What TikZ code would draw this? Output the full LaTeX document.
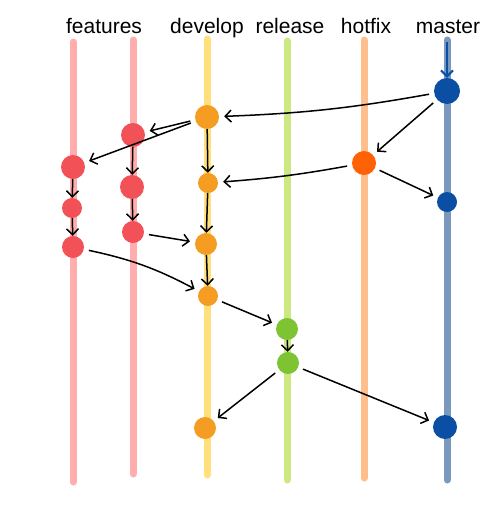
\documentclass[tikz,border=0pt]{standalone}
\usepackage{fontspec}
\setmainfont{Liberation Sans}
\usetikzlibrary{arrows.meta}

\definecolor{featline}{HTML}{FFADAD}
\definecolor{featdot}{HTML}{F25157}
\definecolor{devline}{HTML}{FFE07D}
\definecolor{devdot}{HTML}{F59D22}
\definecolor{relline}{HTML}{CCE880}
\definecolor{reldot}{HTML}{7EC332}
\definecolor{hotline}{HTML}{FFBF8C}
\definecolor{hotdot}{HTML}{FF6205}
\definecolor{mastline}{HTML}{7B99BE}
\definecolor{mastdot}{HTML}{0B4FA5}

\begin{document}
\begin{tikzpicture}[x=1pt, y=-1pt,
  every node/.style = {align=center},
  lane/.style={line width=7pt, line cap=round},
  title/.style={anchor=base, font=\fontsize{21}{25}\selectfont},
  commit/.style={circle, inner sep=0pt, fill=#1},
  step edge/.style={draw, -{Straight Barb[length=6pt,width=12pt]}, line width=1.5pt},
  merge/.style={step edge, shorten >=5pt, shorten <=5pt}]
  \useasboundingbox (0,0) rectangle (500,522);

  % branch names
  \node[title] (tfeat) at (104,33) {features};
  \node[title] (tdev) at (207,33) {develop};
  \node[title] (trel) at (290,33) {release};
  \node[title] (thot) at (366,33) {hotfix};
  \node[title] (tmast) at (448,33) {master};

  % lanes
  \draw[lane, featline] (73,42) -- (73,482);
  \draw[lane, featline] (133,40) -- (133,474);
  \draw[lane, devline] (207,39) -- (207,475);
  \draw[lane, relline] (287,41) -- (287,480);
  \draw[lane, hotline] (364,40) -- (364,478);
  \draw[lane, mastline] (447,40) -- (447,480);

  % commits
  \node[commit=mastdot, minimum size=26pt] (m1) at (447,91) {};
  \node[commit=mastdot, minimum size=20pt] (m2) at (447,202) {};
  \node[commit=mastdot, minimum size=24pt] (m3) at (445,427) {};
  \node[commit=hotdot, minimum size=24pt] (h1) at (364,163) {};
  \node[commit=devdot, minimum size=24pt] (d1) at (207,117) {};
  \node[commit=devdot, minimum size=20pt] (d2) at (208,183) {};
  \node[commit=devdot, minimum size=22pt] (d3) at (206,244) {};
  \node[commit=devdot, minimum size=20pt] (d4) at (208,296) {};
  \node[commit=devdot, minimum size=22pt] (d5) at (205,428) {};
  \node[commit=reldot, minimum size=22pt] (r1) at (287,329) {};
  \node[commit=reldot, minimum size=22pt] (r2) at (288,363) {};
  \node[commit=featdot, minimum size=24pt] (f21) at (133,135) {};
  \node[commit=featdot, minimum size=24pt] (f22) at (132,187) {};
  \node[commit=featdot, minimum size=22pt] (f23) at (133,232) {};
  \node[commit=featdot, minimum size=24pt] (f11) at (73,167) {};
  \node[commit=featdot, minimum size=20pt] (f12) at (72,208) {};
  \node[commit=featdot, minimum size=22pt] (f13) at (73,247) {};

  \coordinate (mtop) at (447,42);
  \path[step edge, mastdot, line width=2pt] (mtop) -- (m1);

  % steps along a branch
  \path[step edge] (d1) -- (d2);
  \path[step edge] (d2) -- (d3);
  \path[step edge] (d3) -- (d4);
  \path[step edge] (f21) -- (f22);
  \path[step edge] (f22) -- (f23);
  \path[step edge] (f11) -- (f12);
  \path[step edge] (f12) -- (f13);
  \path[step edge] (r1) -- (r2);

  % merges and branch-offs
  \path[merge] (m1) to[bend left=4] (d1);
  \path[merge] (m1) -- (h1);
  \path[merge] (h1) -- (m2);
  \path[merge] (h1) to[bend left=3] (d2);
  \path[merge] (d1) -- (f21);
  \path[merge] (d1) -- (f11);
  \path[merge] (f23) -- (d3);
  \path[merge] (f13) to[bend left=8] (d4);
  \path[merge] (d4) -- (r1);
  \path[merge] (r2) -- (d5);
  \path[merge] (r2) -- (m3);
\end{tikzpicture}
\end{document}
